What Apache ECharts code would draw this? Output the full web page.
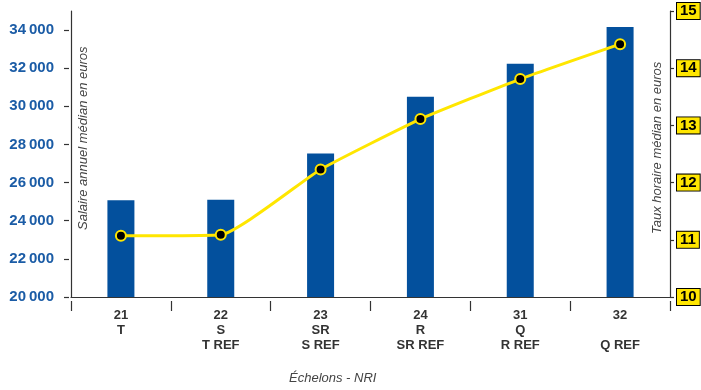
<!DOCTYPE html>
<html>
<head>
<meta charset="utf-8">
<script src="https://cdn.jsdelivr.net/npm/echarts@6/dist/echarts.min.js"></script>
<style>
  html, body { margin: 0; padding: 0; background: #fff; }
  #chart { width: 701px; height: 390px; }
</style>
</head>
<body>
<div id="chart"></div>
<script>
// Échelons (grade levels) with their NRI reference labels
const categories = ['21\nT', '22\nS\nT REF', '23\nSR\nS REF', '24\nR\nSR REF', '31\nQ\nR REF', '32\n\nQ REF'];
// Median annual salary (euros) – bars, left axis
const salaireAnnuel = [25070, 25100, 27530, 30500, 32230, 34160];
// Median hourly rate (euros) – line, right axis
const tauxHoraire = [11.07, 11.09, 12.23, 13.11, 13.81, 14.42];
// Tick labels
const leftTicks = [20000, 22000, 24000, 26000, 28000, 30000, 32000, 34000];
const rightTicks = [10, 11, 12, 13, 14, 15];

const FONT = '"Liberation Sans", Arial, sans-serif';
const BLUE = '#03509d';
const YELLOW = '#ffe600';
const AXIS = '#333';

const chart = echarts.init(document.getElementById('chart'), null, { renderer: 'canvas' });

const fmtThousands = v => {
  const s = String(v);
  return s.slice(0, s.length - 3) + '\u2009' + s.slice(-3);
};

chart.setOption({
  animation: false,
  grid: { left: 71, right: 31, top: 11, bottom: 93, outerBoundsMode: 'none', containLabel: false },
  xAxis: [
    {
      type: 'category',
      data: categories,
      position: 'bottom',
      axisLine: { show: true, lineStyle: { color: AXIS, width: 1.2 } },
      axisTick: { show: false },
      axisLabel: {
        margin: 11,
        fontFamily: FONT, fontSize: 13, fontWeight: 'bold', color: '#333',
        lineHeight: 15, interval: 0
      }
    },
    {
      // separate tick row slightly below the axis line
      type: 'category',
      data: categories,
      position: 'bottom',
      offset: 4,
      axisLine: { show: false },
      axisTick: { show: true, length: 10, lineStyle: { color: AXIS, width: 1.2 } },
      axisLabel: { show: false }
    }
  ],
  yAxis: [
    {
      type: 'value',
      min: 20000, max: 35000, interval: 1000,
      position: 'left',
      axisLine: { show: true, lineStyle: { color: AXIS, width: 1.2 } },
      axisTick: { show: false },
      axisLabel: { show: false },
      splitLine: { show: false }
    },
    {
      type: 'value',
      min: 10, max: 15, interval: 1,
      position: 'right',
      axisLine: { show: true, lineStyle: { color: AXIS, width: 1.2 } },
      axisTick: { show: true, length: 4, customValues: rightTicks, lineStyle: { color: AXIS, width: 1.2 } },
      axisLabel: {
        customValues: rightTicks,
        margin: 7,
        fontFamily: FONT, fontSize: 15, fontWeight: 'bold', color: '#000',
        backgroundColor: YELLOW, borderColor: '#000', borderWidth: 1,
        padding: [1, 3, 0, 3]
      },
      splitLine: { show: false }
    },
    {
      // left tick marks and labels, set slightly apart from the axis line
      type: 'value',
      min: 20000, max: 35000, interval: 1000,
      position: 'left',
      offset: 2,
      axisLine: { show: false },
      axisTick: { show: true, length: 5, customValues: leftTicks, lineStyle: { color: AXIS, width: 1.2 } },
      axisLabel: {
        customValues: leftTicks,
        margin: 15,
        formatter: fmtThousands,
        fontFamily: FONT, fontSize: 15, fontWeight: 'bold', color: '#1b5ca6'
      },
      splitLine: { show: false }
    }
  ],
  graphic: [
    {
      type: 'text',
      left: 289, top: 372,
      style: {
        text: 'Échelons - NRI',
        font: 'italic 13px ' + FONT,
        fill: '#444'
      }
    },
    {
      type: 'text',
      x: 77, y: 230,
      rotation: Math.PI / 2,
      style: {
        text: 'Salaire annuel médian en euros',
        font: 'italic 13px ' + FONT,
        fill: '#444'
      }
    },
    {
      type: 'text',
      x: 651, y: 234,
      rotation: Math.PI / 2,
      style: {
        text: 'Taux horaire médian en euros',
        font: 'italic 13px ' + FONT,
        fill: '#444'
      }
    }
  ],
  series: [
    {
      type: 'bar',
      xAxisIndex: 0,
      yAxisIndex: 0,
      data: salaireAnnuel,
      barWidth: 27,
      itemStyle: { color: BLUE }
    },
    {
      type: 'line',
      xAxisIndex: 0,
      yAxisIndex: 1,
      data: tauxHoraire,
      smooth: 0.15,
      symbol: 'circle',
      symbolSize: 10,
      lineStyle: { color: YELLOW, width: 3 },
      itemStyle: { color: '#000', borderColor: YELLOW, borderWidth: 2 },
      z: 5
    }
  ]
});
</script>
</body>
</html>
